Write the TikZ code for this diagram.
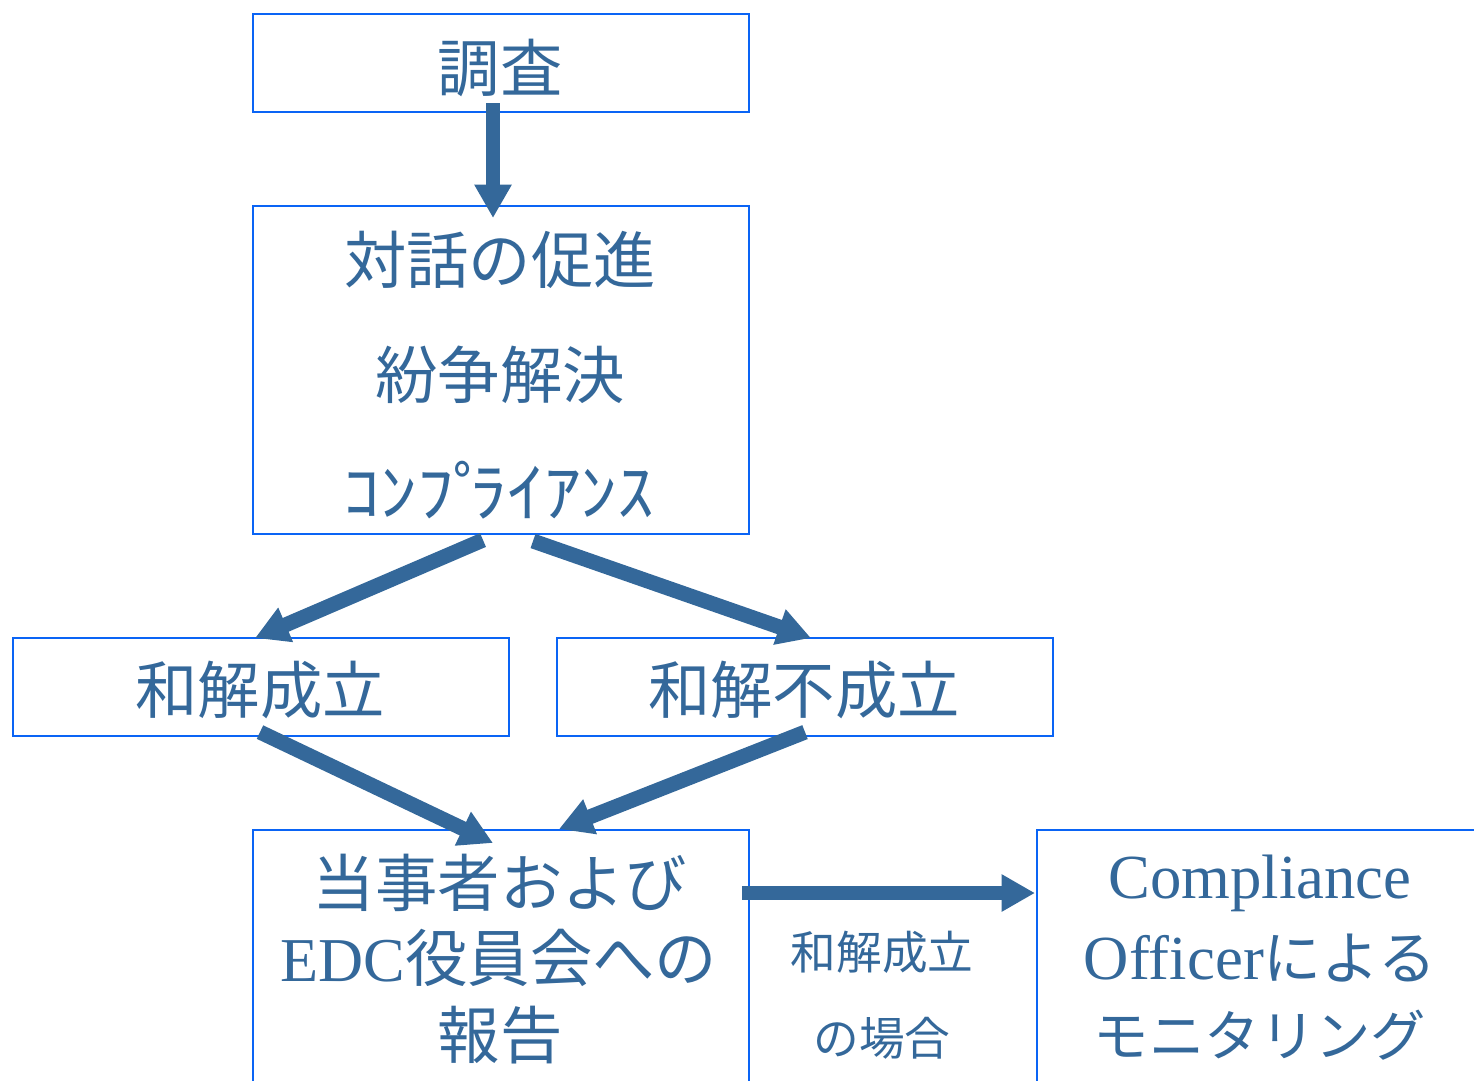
\documentclass[tikz,border=0pt]{standalone}
\usepackage{fontspec}
\setmainfont{Liberation Serif}
\newfontfamily\jp{Noto Sans CJK JP}
\usetikzlibrary{arrows.meta,calc}
\definecolor{txt}{HTML}{34689A}
\definecolor{bx}{HTML}{0A64F5}
\begin{document}
\begin{tikzpicture}[x=0.02cm,y=-0.02cm,
  box/.style={draw=bx,line width=1.2pt,inner sep=0pt,anchor=north west,minimum width=9.92cm},
  lab/.style={text=txt,font=\jp\fontsize{35.5pt}{42pt}\selectfont,inner sep=0pt},
  small/.style={text=txt,font=\jp\fontsize{26pt}{30pt}\selectfont,inner sep=0pt},
  serif/.style={text=txt,font=\fontsize{35.7pt}{42pt}\selectfont,inner sep=0pt},
  arr/.style={draw=txt,line width=8.5pt,-{Triangle[length=19pt,width=20pt]}}]
\useasboundingbox (0,0) rectangle (1474,1080);
\begin{scope}
\clip (0,0) rectangle (1474,1080);
% boxes
\node[box,minimum height=1.96cm] (chosa) at (252,13) {};
\node[box,minimum height=6.56cm] (taiwa) at (252,205) {};
\node[box,minimum height=1.96cm] (seiritsu) at (12,637) {};
\node[box,minimum height=1.96cm] (fusei) at (556,637) {};
\node[box,minimum height=6cm] (hokoku) at (252,829) {};
\node[box,minimum height=6cm,minimum width=10cm] (monitor) at (1036,829) {};
% texts
\node[lab] (t1) at (500,68) {調査};
\node[lab] (t2) at (500,260) {対話の促進};
\node[lab] (t3) at (500,375) {紛争解決};
\node[lab,font=\jp\fontsize{37pt}{42pt}\selectfont] (t4) at (499,490) {\scalebox{1.13}[1]{ｺﾝﾌﾟ\kern-10pt ﾗｲｱﾝｽ}};
\node[lab] (t5) at (260,690) {和解成立};
\node[lab] (t6) at (804,690) {和解不成立};
\node[lab] (t7) at (500,883) {当事者および};
\node[lab] (t8) at (499,958) {{\rmfamily EDC}役員会への};
\node[lab] (t9) at (500,1035) {報告};
\node[small] (t10) at (882,952) {和解成立};
\node[small] (t11) at (882,1038) {の場合};
\node[serif] (t12) at (1260,883) {Compliance};
\node[serif] (t13) at (1260,958) {Officer{\jp\fontsize{33pt}{40pt}\selectfont による}};
\node[lab,font=\jp\fontsize{31.5pt}{40pt}\selectfont] (t14) at (1260,1035) {モニタリング};
% arrows
\draw[arr] ($(chosa.south)+(-8,-10)$) -- ($(taiwa.north)+(-8,13)$);
\draw[arr] ($(taiwa.south)+(-18,5)$) -- ($(seiritsu.north)+(-6,1)$);
\draw[arr] ($(taiwa.south)+(32,6)$) -- ($(fusei.north)+(6,1)$);
\draw[arr] ($(seiritsu.south)+(-1,-5)$) -- ($(hokoku.north)+(-8,14)$);
\draw[arr] ($(fusei.south)+(0,-5)$) -- ($(hokoku.north)+(58,0)$);
\draw[arr] ($(hokoku.north east)+(-8,64)$) -- ($(monitor.north west)+(-1,64)$);
\end{scope}
\end{tikzpicture}
\end{document}
